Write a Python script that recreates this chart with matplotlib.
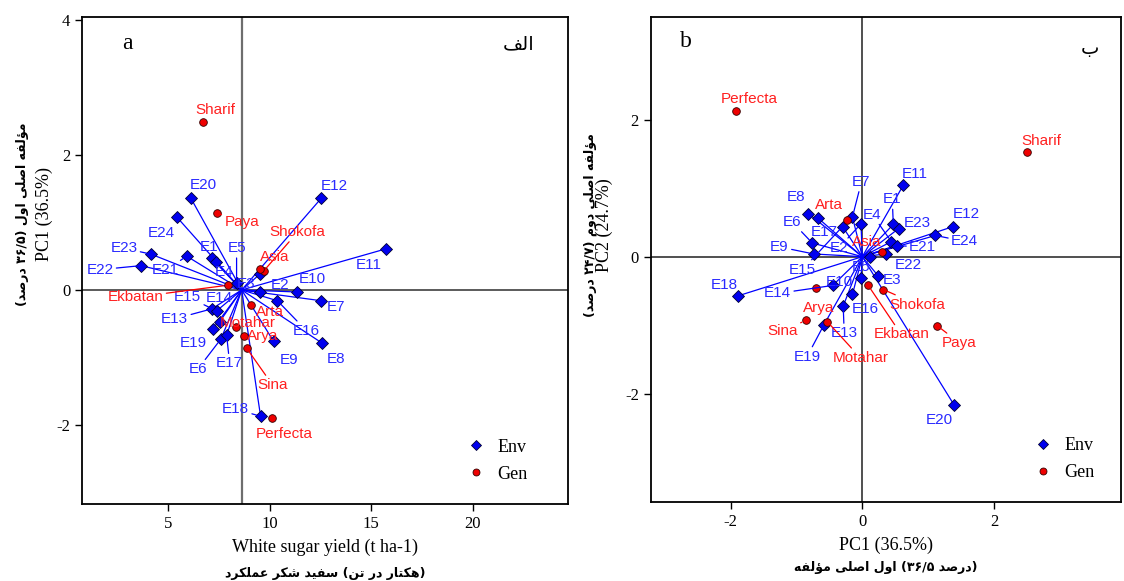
import matplotlib
matplotlib.use("Agg")
import matplotlib.pyplot as plt
from matplotlib.lines import Line2D

# ---- data ----
env_names = ["E1", "E2", "E3", "E4", "E5", "E6", "E7", "E8", "E9", "E10", "E11", "E12",
             "E13", "E14", "E15", "E16", "E17", "E18", "E19", "E20", "E21", "E22", "E23", "E24"]
gen_names = ["Sharif", "Paya", "Shokofa", "Asia", "Ekbatan", "Arta", "Motahar", "Arya", "Sina", "Perfecta"]

# panel a: yield vs PC1
yield_mean = 8.63
env_yield = [7.16, 9.51, 9.55, 7.35, 8.38, 7.60, 12.55, 12.60, 10.20, 11.37, 15.74, 12.55,
             7.16, 7.55, 7.40, 10.39, 7.89, 9.56, 7.21, 6.13, 5.93, 3.68, 4.17, 5.44]
env_pc1_a = [0.47, -0.03, 0.24, 0.41, 0.10, -0.73, -0.16, -0.79, -0.76, -0.03, 0.61, 1.36,
             -0.28, -0.47, -0.31, -0.16, -0.67, -1.87, -0.58, 1.36, 0.50, 0.36, 0.53, 1.08]
gen_yield = [6.72, 7.40, 9.71, 9.51, 7.94, 9.07, 8.33, 8.73, 8.87, 10.10]
gen_pc1_a = [2.49, 1.14, 0.28, 0.31, 0.07, -0.22, -0.55, -0.68, -0.86, -1.90]

# panel b: PC1 vs PC2
env_pc1_b = [0.47, -0.02, 0.24, 0.44, 0.12, -0.76, -0.15, -0.82, -0.74, -0.02, 0.62, 1.38,
             -0.29, -0.45, -0.30, -0.15, -0.68, -1.88, -0.58, 1.39, 0.52, 0.36, 0.55, 1.11]
env_pc2_b = [0.47, 0.48, -0.28, 0.22, 0.00, 0.20, 0.58, 0.63, 0.04, -0.31, 1.04, 0.44,
             -0.72, -0.42, 0.44, -0.55, 0.57, -0.57, -0.99, -2.16, 0.16, 0.04, 0.41, 0.31]
gen_pc1_b = [2.50, 1.14, 0.32, 0.30, 0.09, -0.23, -0.53, -0.70, -0.86, -1.92]
gen_pc2_b = [1.53, -1.01, -0.48, 0.07, -0.42, 0.54, -0.95, -0.45, -0.93, 2.12]

# label placement (pixel offsets from the point)
env_off_a = [(-3, 11), (20, 7), (-14, -10), (8, -10), (0, 35), (-23, -30), (15, -6), (14, -16),
             (15, -19), (15, 13), (-17, -16), (13, 12), (-37, -10), (0, 24), (-29, 14), (29, -30),
             (3, -28), (-25, 7), (-19, -14), (12, 13), (-21, -14), (-41, -4), (-27, 6), (-15, -16)]
gen_off_a = [(13, 12), (25, -9), (34, 39), (15, 12), (-92, -12), (19, -7), (12, 4), (19, 0),
             (26, -37), (13, -16)]
env_off_b = [(-1, 25), (-22, -24), (14, -4), (-19, 27), (-9, -10), (-20, 21), (9, 35), (-12, 17),
             (-34, 7), (-22, -4), (12, 11), (13, 13), (1, -27), (-55, -8), (-40, -43), (13, -15),
             (7, -14), (-14, 11), (-17, -32), (-15, -15), (26, -1), (22, -11), (19, 6), (29, -6)]
gen_off_b = [(14, 11), (22, -17), (34, -15), (-15, 10), (33, -49), (-18, 15), (33, -36), (2, -20),
             (-23, -11), (13, 12)]

# ---- simple Persian shaping (presentation forms) ----
FORMS = {
    "ا": ("\uFE8D", "\uFE8E", None, None),
    "ب": ("\uFE8F", "\uFE90", "\uFE91", "\uFE92"),
    "ت": ("\uFE95", "\uFE96", "\uFE97", "\uFE98"),
    "د": ("\uFEA9", "\uFEAA", None, None),
    "ر": ("\uFEAD", "\uFEAE", None, None),
    "س": ("\uFEB1", "\uFEB2", "\uFEB3", "\uFEB4"),
    "ش": ("\uFEB5", "\uFEB6", "\uFEB7", "\uFEB8"),
    "ص": ("\uFEB9", "\uFEBA", "\uFEBB", "\uFEBC"),
    "ع": ("\uFEC9", "\uFECA", "\uFECB", "\uFECC"),
    "ف": ("\uFED1", "\uFED2", "\uFED3", "\uFED4"),
    "ل": ("\uFEDD", "\uFEDE", "\uFEDF", "\uFEE0"),
    "م": ("\uFEE1", "\uFEE2", "\uFEE3", "\uFEE4"),
    "ن": ("\uFEE5", "\uFEE6", "\uFEE7", "\uFEE8"),
    "ه": ("\uFEE9", "\uFEEA", "\uFEEB", "\uFEEC"),
    "و": ("\uFEED", "\uFEEE", None, None),
    "ؤ": ("\uFE85", "\uFE86", None, None),
    "ی": ("\uFBFC", "\uFBFD", "\uFBFE", "\uFBFF"),
    "ک": ("\uFB8E", "\uFB8F", "\uFB90", "\uFB91"),
}


def shape(word):
    out = []
    for i, ch in enumerate(word):
        if ch not in FORMS:
            out.append(ch)
            continue
        prev = word[i - 1] if i > 0 else None
        nxt = word[i + 1] if i + 1 < len(word) else None
        jp = prev in FORMS and FORMS[prev][2] is not None
        jn = nxt in FORMS and FORMS[ch][2] is not None
        iso, fin, ini, med = FORMS[ch]
        if jp and jn:
            out.append(med)
        elif jp:
            out.append(fin)
        elif jn:
            out.append(ini)
        else:
            out.append(iso)
    return "".join(out[::-1])


def is_fa(s):
    return any(c in FORMS for c in s)


def ltr_words(text):
    # word order kept as in the source figure, each word shaped right-to-left
    parts = []
    for w in text.split(" "):
        lead = "(" if w.startswith("(") else ""
        tail = ")" if w.endswith(")") else ""
        core = w.strip("()")
        parts.append(lead + (shape(core) if is_fa(core) else core) + tail)
    return " ".join(parts)


def rtl(text):
    # full right-to-left visual order
    parts = []
    for w in text.split(" "):
        lead = ")" if w.startswith("(") else ""
        tail = "(" if w.endswith(")") else ""
        core = w.strip("()")
        parts.append(tail + (shape(core) if is_fa(core) else core) + lead)
    return " ".join(parts[::-1])


plt.rcParams["font.family"] = "Liberation Serif"
plt.rcParams["axes.unicode_minus"] = False
fa_font = ["DejaVu Sans"]
lab_font = "Liberation Sans"
ENV_C, GEN_C = "#0000ee", "#ee0000"
ENV_T, GEN_T = "#2a2aff", "#ff2020"


def biplot(ax, ex, ey, gx, gy, eoff, goff, origin):
    for x, y in zip(ex, ey):
        ax.plot([origin[0], x], [origin[1], y], color="#0000ff", lw=0.9, zorder=2)
    ax.plot(ex, ey, ls="none", marker="D", ms=6.3, mfc=ENV_C, mec="#000033", mew=0.6, zorder=4)
    ax.plot(gx, gy, ls="none", marker="o", ms=5.5, mfc=GEN_C, mec="#330000", mew=0.6, zorder=4)
    for names, xs, ys, offs, col, lcol in ((env_names, ex, ey, eoff, ENV_T, "#0000ff"),
                                            (gen_names, gx, gy, goff, GEN_T, "#ff0000")):
        for n, x, y, (dx, dy) in zip(names, xs, ys, offs):
            far = (dx * dx + dy * dy) ** 0.5 > 25
            ax.annotate(n, (x, y), xytext=(dx, dy), textcoords="offset pixels",
                        ha="center", va="center", color=col, fontsize=11, family=lab_font,
                        zorder=5,
                        arrowprops=dict(arrowstyle="-", color=lcol, lw=0.9, shrinkA=0, shrinkB=3)
                        if far else None)


fig = plt.figure(figsize=(11.24, 5.81), dpi=100)
ax1 = fig.add_axes([0.073, 0.1325, 0.432, 0.838])
ax2 = fig.add_axes([0.579, 0.136, 0.418, 0.835])

# panel a
ax1.axvline(yield_mean, color="#6e6e6e", lw=1.6, zorder=1)
ax1.axhline(0, color="#5a5a5a", lw=1.4, zorder=1)
biplot(ax1, env_yield, env_pc1_a, gen_yield, gen_pc1_a, env_off_a, gen_off_a, (yield_mean, 0))
ax1.set_xlim(0.78, 24.66)
ax1.set_ylim(-3.17, 4.04)
ax1.set_xticks([5, 10, 15, 20])
ax1.set_yticks([-2, 0, 2, 4])

# panel b
ax2.axvline(0, color="#202020", lw=1.1, zorder=1)
ax2.axhline(0, color="#202020", lw=1.1, zorder=1)
biplot(ax2, env_pc1_b, env_pc2_b, gen_pc1_b, gen_pc2_b, env_off_b, gen_off_b, (0, 0))
ax2.set_xlim(-3.21, 3.92)
ax2.set_ylim(-3.58, 3.5)
ax2.set_xticks([-2, 0, 2])
ax2.set_yticks([-2, 0, 2])

for ax, anchor in ((ax1, (0.792, 0.134)), (ax2, (0.815, 0.134))):
    ax.tick_params(direction="out", length=5, width=1, labelsize=12)
    for s in ax.spines.values():
        s.set_linewidth(1.3)
    handles = [Line2D([], [], ls="none", marker="D", ms=5, mfc=ENV_C, mec="#000033", mew=0.6),
               Line2D([], [], ls="none", marker="o", ms=5, mfc=GEN_C, mec="#330000", mew=0.6)]
    ax.legend(handles, ["Env", "Gen"], loc="upper left", bbox_to_anchor=anchor,
              frameon=False, fontsize=13, handlelength=1.0, handletextpad=0.7,
              labelspacing=0.55, borderpad=0, borderaxespad=0)

# panel letters
ax1.text(0.093, 0.945, "a", transform=ax1.transAxes, fontsize=17, ha="center", va="center")
ax1.text(0.90, 0.945, shape("الف"), transform=ax1.transAxes, fontsize=14, family=fa_font,
         ha="center", va="center")
ax2.text(0.075, 0.95, "b", transform=ax2.transAxes, fontsize=17, ha="center", va="center")
ax2.text(0.935, 0.935, shape("ب"), transform=ax2.transAxes, fontsize=14, family=fa_font,
         ha="center", va="center")

# axis titles
ax1.text(0.5, -0.088, "White sugar yield (t ha-1)", transform=ax1.transAxes, fontsize=13,
         ha="center", va="center")
ax1.text(0.5, -0.142, ltr_words("عملکرد شکر سفید (تن در هکتار)"), transform=ax1.transAxes,
         fontsize=9, family=fa_font, weight="bold", ha="center", va="center")
ax1.text(-0.078, 0.595, "PC1 (36.5%)", transform=ax1.transAxes, fontsize=13, rotation=90,
         ha="center", va="center")
ax1.text(-0.123, 0.595, rtl("مؤلفه اصلی اول (۳۶/۵ درصد)"), transform=ax1.transAxes,
         fontsize=9, family=fa_font, weight="bold", rotation=90, ha="center", va="center")

ax2.text(0.5, -0.089, "PC1 (36.5%)", transform=ax2.transAxes, fontsize=13,
         ha="center", va="center")
ax2.text(0.5, -0.136, ltr_words("مؤلفه اصلی اول (۳۶/۵ درصد)"), transform=ax2.transAxes,
         fontsize=9, family=fa_font, weight="bold", ha="center", va="center")
ax2.text(-0.098, 0.57, "PC2 (24.7%)", transform=ax2.transAxes, fontsize=13, rotation=90,
         ha="center", va="center")
ax2.text(-0.128, 0.57, rtl("مؤلفه اصلی دوم (۲۴/۷ درصد)"), transform=ax2.transAxes,
         fontsize=9, family=fa_font, weight="bold", rotation=90, ha="center", va="center")

fig.savefig("out.png", dpi=100)
